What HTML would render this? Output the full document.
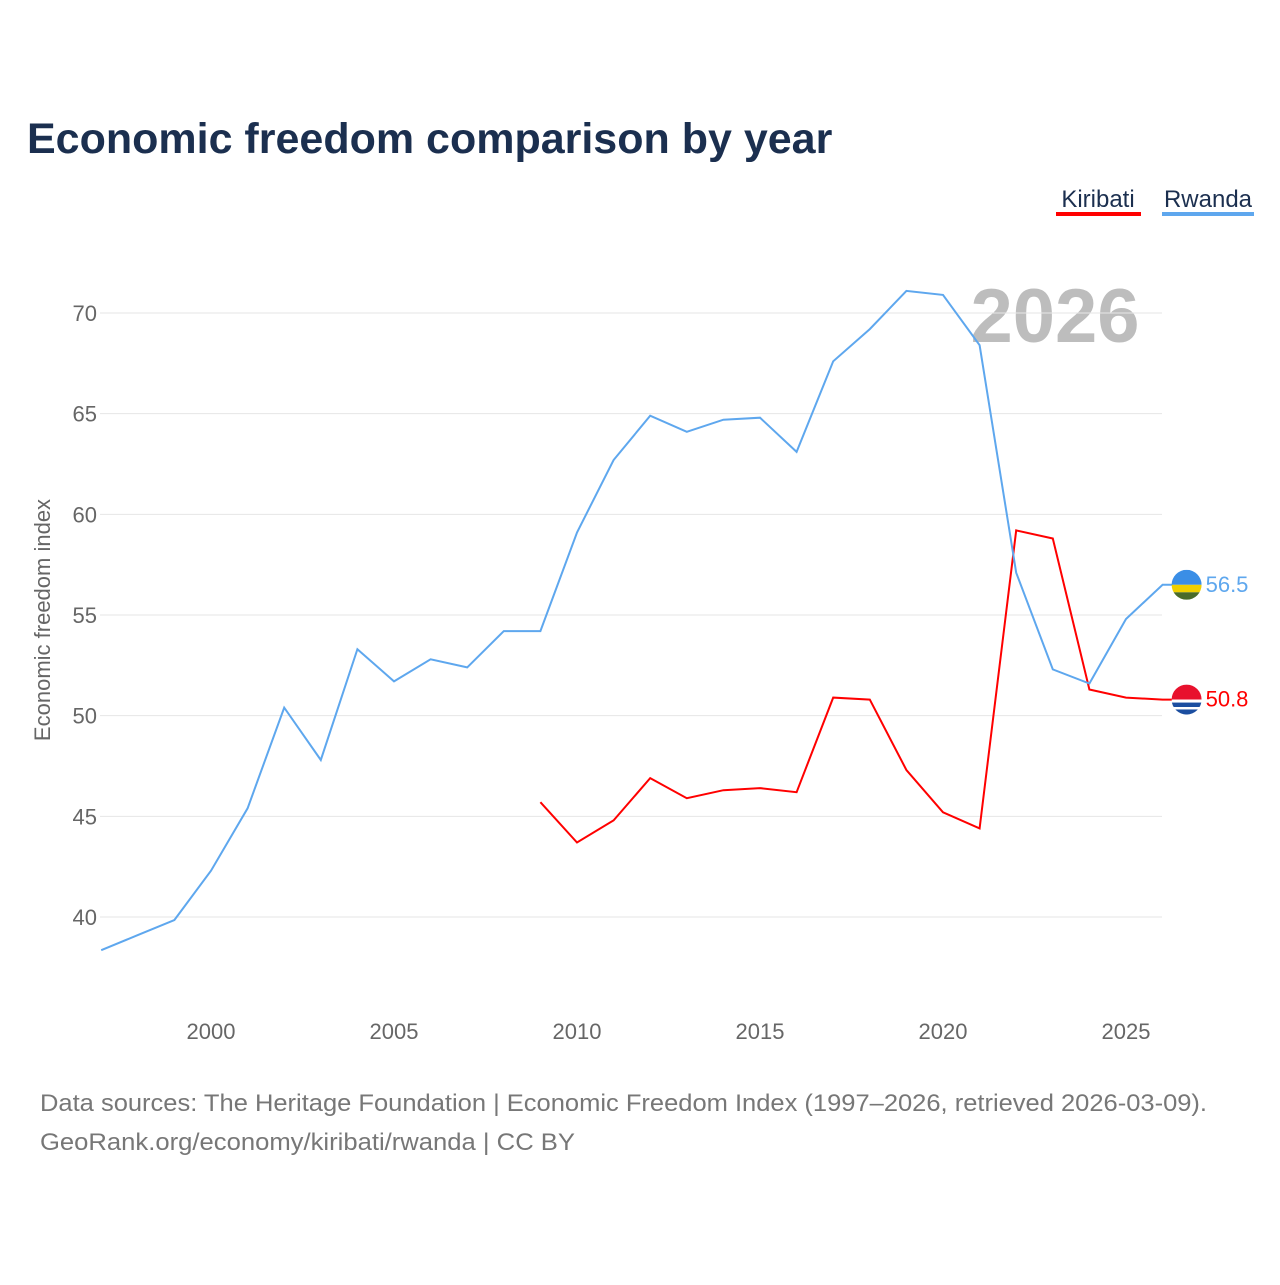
<!DOCTYPE html>
<html><head><meta charset="utf-8"><style>
body{margin:0;background:#fff;font-family:"Liberation Sans",sans-serif}
svg text{font-family:"Liberation Sans",sans-serif}
</style></head><body>
<svg id="chart" width="1280" height="1280" xmlns="http://www.w3.org/2000/svg">
<text x="27" y="153" font-size="43" font-weight="bold" fill="#1b2f4f">Economic freedom comparison by year</text>
<g>
<text x="1098" y="207" font-size="24" fill="#1b2f4f" text-anchor="middle">Kiribati</text>
<rect x="1056" y="212" width="85" height="4" fill="#ff0000"/>
<text x="1208" y="207" font-size="24" fill="#1b2f4f" text-anchor="middle">Rwanda</text>
<rect x="1162" y="212" width="92" height="4" fill="#5ea7ee"/>
</g>
<text x="1055" y="342" font-size="76" font-weight="bold" fill="#bdbdbd" text-anchor="middle">2026</text>
<g id="grid"></g><g id="yt"></g><g id="xt"></g><g id="lines"></g>
<text transform="translate(50,620) rotate(-90)" font-size="22" fill="#666" text-anchor="middle">Economic freedom index</text>
<text x="40" y="1111" font-size="24" fill="#777" textLength="1167" lengthAdjust="spacingAndGlyphs">Data sources: The Heritage Foundation | Economic Freedom Index (1997–2026, retrieved 2026-03-09).</text>
<text x="40" y="1150" font-size="24" fill="#777" textLength="535" lengthAdjust="spacingAndGlyphs">GeoRank.org/economy/kiribati/rwanda | CC BY</text>
</svg>
<script>
const years=[1997,1998,1999,2000,2001,2002,2003,2004,2005,2006,2007,2008,2009,2010,2011,2012,2013,2014,2015,2016,2017,2018,2019,2020,2021,2022,2023,2024,2025,2026];
const rwanda=[38.35,39.1,39.85,42.3,45.4,50.4,47.8,53.3,51.7,52.8,52.4,54.2,54.2,59.1,62.7,64.9,64.1,64.7,64.8,63.1,67.6,69.2,71.1,70.9,68.4,57.1,52.3,51.6,54.8,56.5];
const kiribati=[null,null,null,null,null,null,null,null,null,null,null,null,45.7,43.7,44.8,46.9,45.9,46.3,46.4,46.2,50.9,50.8,47.3,45.2,44.4,59.2,58.8,51.3,50.9,50.8];
const yTicks=[40,45,50,55,60,65,70];
const xTicks=[2000,2005,2010,2015,2020,2025];
const X=y=>211+(y-2000)*36.6;
const Y=v=>917-(v-40)*20.133;
const NS="http://www.w3.org/2000/svg";
function mk(t,a,p){const e=document.createElementNS(NS,t);for(const k in a)e.setAttribute(k,a[k]);p.appendChild(e);return e;}
const svg=document.getElementById('chart');
const grid=document.getElementById('grid'),yt=document.getElementById('yt'),xt=document.getElementById('xt'),lines=document.getElementById('lines');
yTicks.forEach(v=>{
 const l=mk('line',{x1:100,x2:1162,y1:Y(v),y2:Y(v),stroke:'#e6e6e6','stroke-width':1},grid);
 
 
 const t=mk('text',{x:97,y:Y(v)+8,'font-size':22,fill:'#666','text-anchor':'end'},yt);t.textContent=v;
 
 
});
xTicks.forEach(v=>{
 const t=mk('text',{x:X(v),y:1039,'font-size':22,fill:'#666','text-anchor':'middle'},xt);t.textContent=v;
 
 
});
const defs=mk('defs',{},svg);
function series(vals,color,name,stripes){
 let d='';let pen=false;
 vals.forEach((v,i)=>{if(v==null){pen=false;return;}d+=(pen?'L':'M')+X(years[i]).toFixed(1)+' '+Y(v).toFixed(1);pen=true;});
 const last=vals[vals.length-1];const cx=X(years[years.length-1])+24,cy=Y(last);
 d+='L'+(cx-14)+' '+cy.toFixed(1);
 const p=mk('path',{d:d,fill:'none',stroke:color,'stroke-width':2},lines);
 
 
 const cp=mk('clipPath',{id:'clip-'+name},defs);
 mk('circle',{cx:cx,cy:cy,r:15},cp);
 const g=mk('g',{'clip-path':'url(#clip-'+name+')'},lines);
 
 
 let yy=cy-15;
 stripes.forEach(s=>{mk('rect',{x:cx-15,y:yy,width:30,height:30*s[1],fill:s[0]},g);yy+=30*s[1];});
 const t=mk('text',{x:cx+19,y:cy+7,'font-size':22,fill:color},lines);t.textContent=last.toFixed(1);
 
 
}
series(kiribati,'#ff0000','kiribati',[['#e8112d',0.5],['#fff',0.1],['#1b4ea0',0.15],['#fff',0.08],['#1b4ea0',0.17]]);
series(rwanda,'#5ea7ee','rwanda',[['#3a8ee6',0.5],['#f0d000',0.25],['#4a6b2a',0.25]]);
</script>
</body></html>
